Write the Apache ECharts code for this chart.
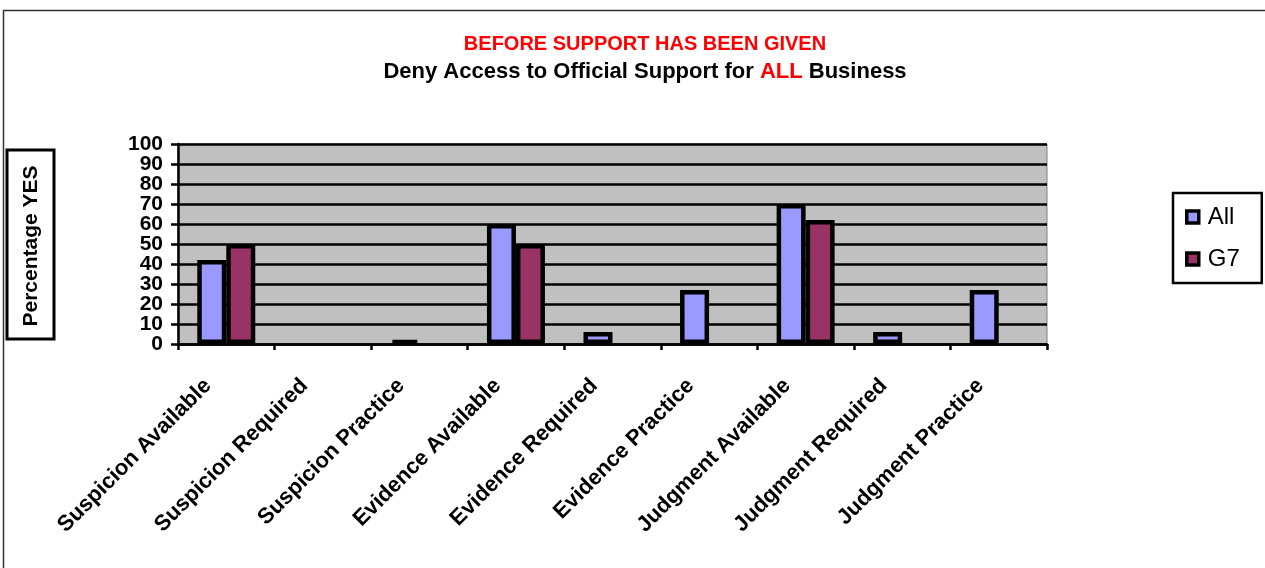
<!DOCTYPE html>
<html><head><meta charset="utf-8">
<script src="https://cdn.jsdelivr.net/npm/echarts@6/dist/echarts.min.js"></script>
<style>html,body{margin:0;padding:0;background:#fff}#c{width:1265px;height:568px}</style>
</head><body><div id="c"></div>
<script>
const categories = ['Suspicion Available','Suspicion Required','Suspicion Practice','Evidence Available','Evidence Required','Evidence Practice','Judgment Available','Judgment Required','Judgment Practice'];
const allValues = [42, null, 2, 60, 6, 27, 70, 6, 27];
const g7Values = [50, null, null, 50, null, null, 62, null, null];
const seriesNames = ['All', 'G7'];
const yTicks = {min: 0, max: 100, interval: 10};
const titleLine1 = 'BEFORE SUPPORT HAS BEEN GIVEN';
const yAxisTitle = 'Percentage YES';

const F = '"Liberation Sans", Arial, sans-serif';
const labelStyle = {margin: 15, fontFamily: F, fontWeight: 'bold', fontSize: 21, color: '#000', showMinLabel: true, showMaxLabel: true};
const chart = echarts.init(document.getElementById('c'));
chart.setOption({
  animation: false,
  backgroundColor: '#fff',
  title: {
    text: titleLine1,
    subtext: '{b|Deny Access to Official Support for }{r|ALL}{b| Business}',
    left: 640, textAlign: 'center', top: 29, itemGap: 7,
    textStyle: {color: '#ff0000', fontFamily: F, fontWeight: 'bold', fontSize: 20},
    subtextStyle: {rich: {
      b: {color: '#000', fontFamily: F, fontWeight: 'bold', fontSize: 22},
      r: {color: '#ff0000', fontFamily: F, fontWeight: 'bold', fontSize: 22}
    }}
  },
  legend: {
    orient: 'vertical', left: 1173, top: 193,
    borderColor: '#000', borderWidth: 2.5,
    padding: [12, 22, 12, 12], itemGap: 18,
    itemWidth: 12, itemHeight: 12, icon: 'rect',
    itemStyle: {borderColor: '#000', borderWidth: 3.5},
    textStyle: {fontFamily: F, fontSize: 24, color: '#000', padding: [0, 0, 0, 4]},
    data: seriesNames
  },
  grid: {left: 178, right: 218, top: 144, bottom: 224, show: true, backgroundColor: '#c0c0c0', borderColor: '#808080', borderWidth: 1},
  xAxis: {
    type: 'category', data: categories,
    axisLine: {lineStyle: {color: '#000', width: 2.5}},
    axisTick: {show: true, length: 6, lineStyle: {color: '#000', width: 2.5}},
    axisLabel: {rotate: 45, interval: 0, margin: 20, padding: [0, 26, 0, 0], fontFamily: F, fontWeight: 'bold', fontSize: 22, color: '#000'}
  },
  yAxis: [
    {
      type: 'value', min: yTicks.min, max: yTicks.max, interval: yTicks.interval, position: 'left',
      axisLine: {show: true, lineStyle: {color: '#000', width: 2.5}},
      axisTick: {show: true, length: 7, lineStyle: {color: '#000', width: 2.5}},
      axisLabel: Object.assign({}, labelStyle, {formatter: v => (v % 20 === 0 ? String(v) : '')}),
      splitLine: {show: true, lineStyle: {color: '#000', width: 2.5}}
    },
    {
      type: 'value', min: yTicks.min, max: yTicks.max, interval: yTicks.interval, position: 'left', offset: 0,
      axisLine: {show: false}, axisTick: {show: false}, splitLine: {show: false},
      axisLabel: Object.assign({}, labelStyle, {formatter: v => (v % 20 === 10 ? String(v) : '')})
    }
  ],
  series: [
    {name: seriesNames[0], type: 'bar', data: allValues, barWidth: 29, barGap: '0%', yAxisIndex: 0,
      itemStyle: {color: '#9999ff', borderColor: '#000', borderWidth: 4.5}},
    {name: seriesNames[1], type: 'bar', data: g7Values, barWidth: 29, yAxisIndex: 0,
      itemStyle: {color: '#993366', borderColor: '#000', borderWidth: 4.5}}
  ],
  graphic: [
    {type: 'rect', shape: {x: 3.5, y: 10.5, width: 1300, height: 600}, style: {fill: null, stroke: '#333', lineWidth: 1.5}, silent: true, z: -1},
    {type: 'rect', shape: {x: 7, y: 150, width: 47, height: 189}, style: {fill: '#fff', stroke: '#000', lineWidth: 3}},
    {type: 'text', x: 31, y: 246, rotation: Math.PI / 2,
      style: {text: yAxisTitle, fontFamily: F, fontWeight: 'bold', fontSize: 21, fill: '#000', align: 'center', verticalAlign: 'middle'}}
  ]
});
</script></body></html>
